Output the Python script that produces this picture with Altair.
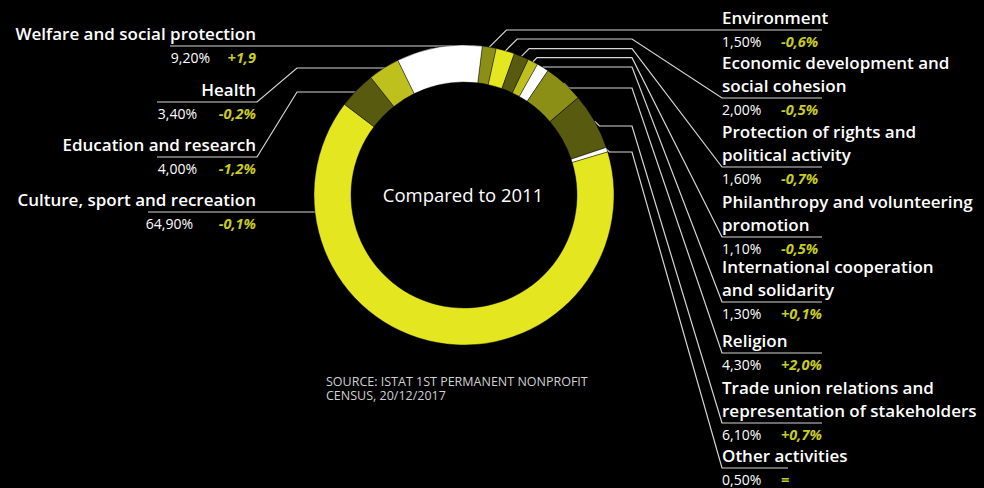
import math
import altair as alt
import pandas as pd

# ---------------- data ----------------
categories = [
    "Environment",
    "Economic development and social cohesion",
    "Protection of rights and political activity",
    "Philanthropy and volunteering promotion",
    "International cooperation and solidarity",
    "Religion",
    "Trade union relations and representation of stakeholders",
    "Other activities",
    "Culture, sport and recreation",
    "Education and research",
    "Health",
    "Welfare and social protection",
]
shares = [1.5, 2.0, 1.6, 1.1, 1.3, 4.3, 6.1, 0.5, 64.9, 4.0, 3.4, 9.2]
share_labels = ["1,50%", "2,00%", "1,60%", "1,10%", "1,30%", "4,30%", "6,10%",
                "0,50%", "64,90%", "4,00%", "3,40%", "9,20%"]
change_labels = ["-0,6%", "-0,5%", "-0,7%", "-0,5%", "+0,1%", "+2,0%", "+0,7%",
                 "=", "-0,1%", "-1,2%", "-0,2%", "+1,9"]
title_lines = [
    ["Environment"],
    ["Economic development and", "social cohesion"],
    ["Protection of rights and", "political activity"],
    ["Philanthropy and volunteering", "promotion"],
    ["International cooperation", "and solidarity"],
    ["Religion"],
    ["Trade union relations and", "representation of stakeholders"],
    ["Other activities"],
    ["Culture, sport and recreation"],
    ["Education and research"],
    ["Health"],
    ["Welfare and social protection"],
]
center_text = "Compared to 2011"
source_lines = ["SOURCE: ISTAT 1ST PERMANENT NONPROFIT", "CENSUS, 20/12/2017"]

# ---------------- styles / layout ----------------
YEL = "#e4e71f"
YOL = "#bec01e"
OLV = "#8c8f16"
DRK = "#585a0f"
WHT = "#ffffff"
slice_colors = [OLV, YEL, DRK, YOL, WHT, OLV, DRK, WHT, YEL, DRK, YOL, WHT]

CX, CY, R_OUT, R_IN = 464, 195, 150, 113
START_DEG = 7.0
side = ["R"] * 8 + ["L"] * 4
underline_y = [30, 98, 167, 237, 302, 353, 423, 468, 212, 157, 102, 46]
elbow_y = [30, 39, 48.7, 57.7, 67, 88, 126, 152, 212, 92, 68, 46]
right_x0, right_mid, right_end = 722, 632, [822] * 7 + [788]
left_start_x = {8: 148, 9: 157, 10: 157, 11: 170}
left_pct_right = {8: 193, 9: 197, 10: 197, 11: 210}
left_text_right = 256
right_change_x = 781

total = sum(shares)
start = math.radians(START_DEG)

# slices
slices = pd.DataFrame({
    "category": categories,
    "share": shares,
    "idx": list(range(len(shares))),
})

# leader lines
pts = []
cum = 0.0
for i, s in enumerate(shares):
    mid = start + 2 * math.pi * (cum + s / 2) / total
    cum += s
    u = underline_y[i]
    h = elbow_y[i]
    if side[i] == "R":
        px = CX + R_OUT * math.sin(mid)
        py = CY - R_OUT * math.cos(mid)
        seq = [(px, py), (px + abs(py - h), h), (right_mid, h), (right_x0, u), (right_end[i], u)]
    else:
        ring_x = CX - math.sqrt(max(R_OUT ** 2 - (h - CY) ** 2, 0)) + 6
        if h == u:
            seq = [(left_start_x[i], u), (ring_x, h)]
        else:
            seq = [(left_start_x[i], u), (left_text_right + 1, u), (left_text_right + 41, h), (ring_x, h)]
    for k, (x, y) in enumerate(seq):
        pts.append({"id": i, "k": k, "x": x, "y": y})
lines_df = pd.DataFrame(pts)

# text rows
titles, pcts, chg = [], [], []
for i in range(len(categories)):
    u = underline_y[i]
    n = len(title_lines[i])
    for j, t in enumerate(title_lines[i]):
        titles.append({"side": side[i], "text": t,
                       "x": right_x0 if side[i] == "R" else left_text_right,
                       "y": u - 6 - 23 * (n - 1 - j)})
    if side[i] == "R":
        pcts.append({"side": "R", "text": share_labels[i], "x": right_x0, "y": u + 17})
        chg.append({"side": "R", "text": change_labels[i], "x": right_change_x, "y": u + 17})
    else:
        pcts.append({"side": "L", "text": share_labels[i], "x": left_pct_right[i], "y": u + 17})
        chg.append({"side": "L", "text": change_labels[i], "x": left_text_right, "y": u + 17})
titles_df = pd.DataFrame(titles)
pcts_df = pd.DataFrame(pcts)
chg_df = pd.DataFrame(chg)
misc_df = pd.DataFrame({"text": source_lines, "x": [326, 326], "y": [386, 400]})

XS = alt.Scale(domain=[0, 984], range=[0, 984])
YS = alt.Scale(domain=[0, 488], range=[0, 488])
FONT = "Open Sans"


def xy():
    return dict(x=alt.X("x:Q", scale=XS, axis=None), y=alt.Y("y:Q", scale=YS, axis=None))


lines = alt.Chart(lines_df).mark_line(color="#d6d6d6", strokeWidth=1.2).encode(
    detail="id:N", order="k:Q", **xy()
)

arcs = alt.Chart(slices).mark_arc(innerRadius=R_IN, outerRadius=R_OUT, stroke="#000000", strokeWidth=0.4).encode(
    theta=alt.Theta("share:Q", stack=True, scale=alt.Scale(range=[start, start + 2 * math.pi])),
    order=alt.Order("idx:Q"),
    color=alt.Color("category:N", scale=alt.Scale(domain=categories, range=slice_colors), legend=None),
    x=alt.value(CX),
    y=alt.value(CY),
)


def text_layer(df, sd, align, **kw):
    return alt.Chart(df).transform_filter(alt.datum.side == sd).mark_text(
        align=align, baseline="alphabetic", font=FONT, **kw
    ).encode(text="text:N", **xy())


layers = [lines, arcs]
for sd, al in [("L", "right"), ("R", "left")]:
    layers.append(text_layer(titles_df, sd, al, fontSize=17, fontWeight=600, color="#ffffff"))
    layers.append(text_layer(pcts_df, sd, al, fontSize=14, color="#ffffff"))
    layers.append(text_layer(chg_df, sd, al, fontSize=14.5, fontWeight="bold", fontStyle="italic", color="#c9cc22"))

center = alt.Chart(pd.DataFrame({"text": [center_text], "x": [CX - 1], "y": [CY + 1]})).mark_text(
    align="center", baseline="middle", font=FONT, fontSize=18.5, color="#ffffff"
).encode(text="text:N", **xy())
source = alt.Chart(misc_df).mark_text(
    align="left", baseline="alphabetic", font=FONT, fontSize=12.5, color="#d0d0d0"
).encode(text="text:N", **xy())
layers += [center, source]

chart = alt.layer(*layers).properties(
    width=984, height=488, padding=0,
    autosize=alt.AutoSizeParams(type="none"),
    background="#000000",
).configure_view(stroke=None)

chart.save("out.html", embed_options={"renderer": "svg", "actions": False})
